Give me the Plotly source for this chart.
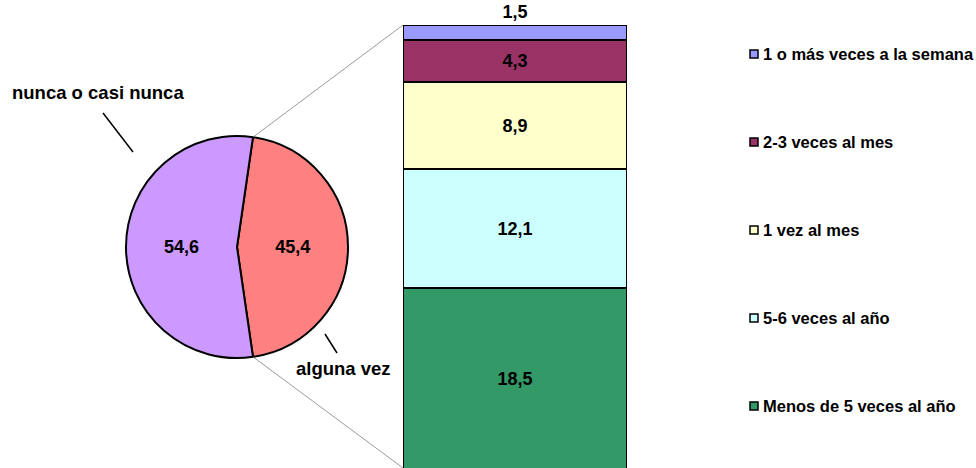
import math
import plotly.graph_objects as go

# ---- data ----
pie_labels = ["alguna vez", "nunca o casi nunca"]
pie_values = [45.4, 54.6]
pie_colors = ["#FF8080", "#CC99FF"]

bar_categories = ["Menos de 5 veces al año", "5-6 veces al año", "1 vez al mes",
                  "2-3 veces al mes", "1 o más veces a la semana"]
bar_values = [18.5, 12.1, 8.9, 4.3, 1.5]
bar_colors = ["#339966", "#CCFFFF", "#FFFFCC", "#993366", "#9999FF"]

W, H = 976, 468
FONT = "Liberation Sans, Arial, sans-serif"

def px(x):
    return x / W

def py(y):
    return 1 - y / H

# pie geometry (pixels)
cx, cy, r = 237, 247, 111
rotation = 90 - pie_values[0] / sum(pie_values) * 360 / 2

# bar geometry (pixels)
bx0, bx1, btop, bbot = 403, 627, 25, 468

fig = go.Figure()

fig.add_trace(go.Pie(
    labels=pie_labels, values=pie_values, sort=False, direction="clockwise",
    rotation=rotation,
    marker=dict(colors=pie_colors, line=dict(color="black", width=2)),
    texttemplate="<b>%{value:.1f}</b>", textposition="inside",
    insidetextorientation="horizontal",
    textfont=dict(family=FONT, size=18, color="black"),
    domain=dict(x=[px(cx - r), px(cx + r)], y=[py(cy + r), py(cy - r)]),
    showlegend=False, hoverinfo="label+value",
))

for i, (cat, val, col) in enumerate(zip(bar_categories, bar_values, bar_colors)):
    fig.add_trace(go.Bar(
        x=[0], y=[val], name=cat, width=1,
        marker=dict(color=col, line=dict(color="black", width=2)),
        text=[val], texttemplate="<b>%{y:.1f}</b>",
        textposition="outside" if i == len(bar_values) - 1 else "inside",
        insidetextanchor="middle", textangle=0, constraintext="none",
        textfont=dict(family=FONT, size=18, color="black"),
        cliponaxis=False, showlegend=False,
    ))

fig.update_layout(
    width=W, height=H, margin=dict(l=0, r=0, t=0, b=0),
    paper_bgcolor="white", plot_bgcolor="white",
    barmode="stack", separators=",.",
    font=dict(family=FONT, size=16, color="black"),
    xaxis=dict(domain=[px(bx0), px(bx1)], range=[-0.5, 0.5], visible=False, fixedrange=True),
    yaxis=dict(domain=[py(bbot), py(btop)], range=[0.2, sum(bar_values)], visible=False, fixedrange=True),
)

shapes = []
annotations = []

# connector lines from pie edges to bar corners
a = math.radians(rotation)
top_pt = (cx + r * math.sin(a), cy - r * math.cos(a))
bot_pt = (cx + r * math.sin(a), cy + r * math.cos(a))
for (x0, y0), (x1, y1) in [(top_pt, (bx0, btop)), (bot_pt, (bx0, 468))]:
    shapes.append(dict(type="line", xref="paper", yref="paper",
                       x0=px(x0), y0=py(y0), x1=px(x1), y1=py(y1),
                       line=dict(color="#808080", width=0.8)))

# pie outside labels with leader lines
pie_label_pos = {"nunca o casi nunca": ((98, 93), (103, 113, 133, 152)),
                 "alguna vez": ((343, 368), (325, 334, 337, 353))}
for lab in pie_labels:
    (tx, ty), (lx0, ly0, lx1, ly1) = pie_label_pos[lab]
    annotations.append(dict(xref="paper", yref="paper", x=px(tx), y=py(ty),
                            text=f"<b>{lab}</b>", showarrow=False,
                            xanchor="center", yanchor="middle",
                            font=dict(family=FONT, size=18.5, color="black")))
    shapes.append(dict(type="line", xref="paper", yref="paper",
                       x0=px(lx0), y0=py(ly0), x1=px(lx1), y1=py(ly1),
                       line=dict(color="black", width=1.5)))

# manual legend (top to bottom)
leg_y = [54, 142, 230, 318, 406]
for yy, cat, col in zip(leg_y, bar_categories[::-1], bar_colors[::-1]):
    shapes.append(dict(type="rect", xref="paper", yref="paper",
                       x0=px(750), x1=px(758), y0=py(yy + 4), y1=py(yy - 4),
                       fillcolor=col, line=dict(color="black", width=1.5)))
    annotations.append(dict(xref="paper", yref="paper", x=px(760.5), y=py(yy),
                            text=f"<b>{cat}</b>", showarrow=False,
                            xanchor="left", yanchor="middle",
                            font=dict(family=FONT, size=16.5, color="black")))

fig.update_layout(shapes=shapes, annotations=annotations)

fig.write_html("out.html", config={"displayModeBar": False},
               post_script="document.body.style.margin='0';document.body.style.overflow='hidden';")
